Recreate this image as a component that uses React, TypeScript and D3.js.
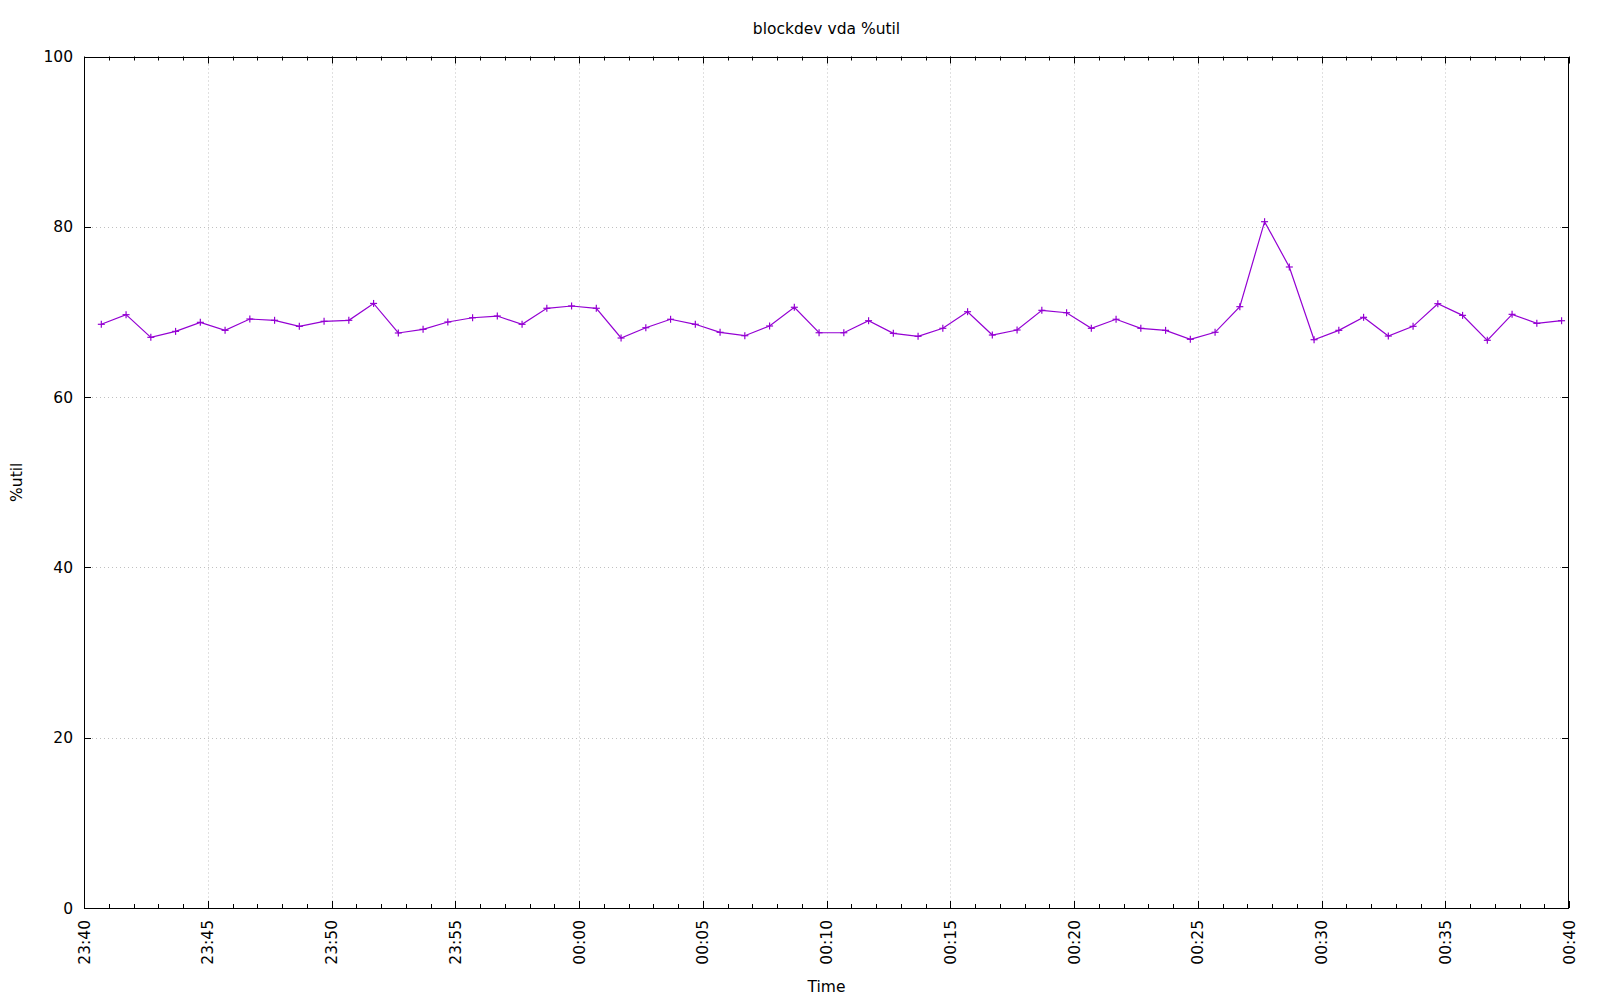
import React from "react";
import * as d3 from "d3";

const title = "blockdev vda %util";
const xLabel = "Time";
const yLabel = "%util";

const sampleTimes = [
  "23:40:42", "23:41:42", "23:42:42", "23:43:42", "23:44:42", "23:45:42", "23:46:42", "23:47:42", "23:48:42", "23:49:42",
  "23:50:42", "23:51:42", "23:52:42", "23:53:42", "23:54:42", "23:55:42", "23:56:42", "23:57:42", "23:58:42", "23:59:42",
  "00:00:42", "00:01:42", "00:02:42", "00:03:42", "00:04:42", "00:05:42", "00:06:42", "00:07:42", "00:08:42", "00:09:42",
  "00:10:42", "00:11:42", "00:12:42", "00:13:42", "00:14:42", "00:15:42", "00:16:42", "00:17:42", "00:18:42", "00:19:42",
  "00:20:42", "00:21:42", "00:22:42", "00:23:42", "00:24:42", "00:25:42", "00:26:42", "00:27:42", "00:28:42", "00:29:42",
  "00:30:42", "00:31:42", "00:32:42", "00:33:42", "00:34:42", "00:35:42", "00:36:42", "00:37:42", "00:38:42", "00:39:42",
];

const utilValues = [
  68.55, 69.68, 67.02, 67.72, 68.78, 67.84, 69.17, 69.02, 68.31, 68.9,
  69.02, 71.0, 67.53, 67.96, 68.82, 69.32, 69.52, 68.55, 70.43, 70.7,
  70.43, 66.94, 68.15, 69.14, 68.55, 67.61, 67.21, 68.35, 70.55, 67.56,
  67.56, 68.97, 67.49, 67.14, 68.08, 70.03, 67.29, 67.88, 70.19, 69.91,
  68.08, 69.14, 68.08, 67.84, 66.79, 67.61, 70.62, 80.6, 75.28, 66.74,
  67.84, 69.37, 67.17, 68.31, 70.97, 69.6, 66.67, 69.72, 68.66, 68.97,
];

const yTicks = [0, 20, 40, 60, 80, 100];
const xTickLabels = ["23:40", "23:45", "23:50", "23:55", "00:00", "00:05", "00:10", "00:15", "00:20", "00:25", "00:30", "00:35", "00:40"];
const xDomainLabels = ["23:40:00", "00:40:00"];

function parseClock(s: string): Date {
  const [h, m, sec] = s.split(":").map(Number);
  const day = h < 12 ? 2 : 1;
  return new Date(2024, 0, day, h, m, sec || 0);
}

const W = 1600;
const H = 1000;
const M = { left: 84, right: 1569, top: 56.5, bottom: 908 };
const FONT = "'DejaVu Sans', sans-serif";
const FS = 15.5;
const COLOR = "#9400d3";

export default function App() {
  const x = d3.scaleTime().domain(xDomainLabels.map(parseClock)).range([M.left, M.right]);
  const y = d3.scaleLinear().domain([0, 100]).range([M.bottom, M.top]);

  const majorX = xTickLabels.map((t) => parseClock(t + ":00"));
  const minorX = d3.timeMinute.every(1)!.range(x.domain()[0], new Date(+x.domain()[1] + 1));

  const pts = sampleTimes.map((t, i) => [x(parseClock(t)), y(utilValues[i])] as [number, number]);
  const line = d3.line()(pts) || "";
  const ms = 3.5;

  return (
    <svg width={W} height={H} style={{ position: "absolute", left: 0, top: 0, background: "#fff" }} fontFamily={FONT}>
      <rect x={0} y={0} width={W} height={H} fill="#fff" />
      {/* grid */}
      <g stroke="#c0c0c0" strokeWidth={1} strokeDasharray="1,3">
        {majorX.slice(1, -1).map((d, i) => (
          <line key={"gx" + i} x1={Math.round(x(d)) + 0.5} x2={Math.round(x(d)) + 0.5} y1={M.top} y2={M.bottom} />
        ))}
        {yTicks.slice(1, -1).map((v) => (
          <line key={"gy" + v} x1={M.left} x2={M.right} y1={Math.round(y(v)) + 0.5} y2={Math.round(y(v)) + 0.5} />
        ))}
      </g>
      {/* ticks */}
      <g stroke="#000" strokeWidth={1}>
        {minorX.map((d, i) => {
          const xx = Math.round(x(d)) + 0.5;
          const major = majorX.some((m) => +m === +d);
          const len = major ? 7 : 4;
          return (
            <g key={"tx" + i}>
              <line x1={xx} x2={xx} y1={M.bottom} y2={M.bottom - len} />
              <line x1={xx} x2={xx} y1={M.top} y2={M.top + len} />
            </g>
          );
        })}
        {yTicks.map((v) => {
          const yy = Math.round(y(v)) + 0.5;
          return (
            <g key={"ty" + v}>
              <line x1={M.left} x2={M.left + 7} y1={yy} y2={yy} />
              <line x1={M.right} x2={M.right - 7} y1={yy} y2={yy} />
            </g>
          );
        })}
      </g>
      {/* data */}
      <path d={line} fill="none" stroke={COLOR} strokeWidth={1.2} />
      <g stroke={COLOR} strokeWidth={1.2}>
        {pts.map(([px, py], i) => (
          <g key={"p" + i}>
            <line x1={px - ms} x2={px + ms} y1={py} y2={py} />
            <line x1={px} x2={px} y1={py - ms} y2={py + ms} />
          </g>
        ))}
      </g>
      {/* frame */}
      <rect x={M.left + 0.5} y={Math.round(M.top) + 0.5} width={M.right - M.left - 1} height={M.bottom - Math.round(M.top)} fill="none" stroke="#000" strokeWidth={1} />
      {/* y tick labels */}
      <g fontSize={FS} fill="#000" textAnchor="end">
        {yTicks.map((v) => (
          <text key={"yl" + v} x={M.left - 11} y={y(v)} dy="0.36em">{v}</text>
        ))}
      </g>
      {/* x tick labels */}
      <g fontSize={FS} fill="#000" textAnchor="end">
        {majorX.map((d, i) => (
          <text key={"xl" + i} transform={`translate(${x(d)},${M.bottom + 12}) rotate(-90)`} dy="0.36em">
            {xTickLabels[i]}
          </text>
        ))}
      </g>
      <text x={(M.left + M.right) / 2} y={34} fontSize={FS} textAnchor="middle" fill="#000">{title}</text>
      <text x={(M.left + M.right) / 2} y={992} fontSize={FS} textAnchor="middle" fill="#000">{xLabel}</text>
      <text transform={`translate(22,${(M.top + M.bottom) / 2}) rotate(-90)`} fontSize={FS} textAnchor="middle" fill="#000">{yLabel}</text>
    </svg>
  );
}
